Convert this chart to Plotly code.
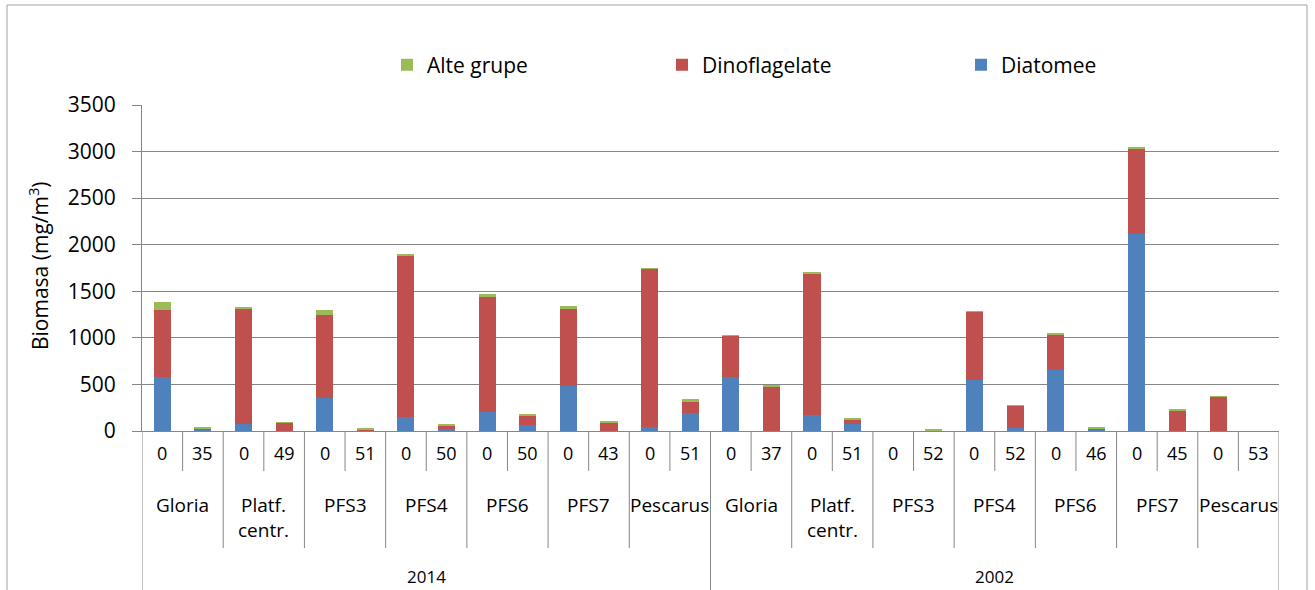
import plotly.graph_objects as go

# Sampling layout: two campaigns, seven stations each, surface (0 m) and deep sample
years = ["2014", "2002"]
stations = ["Gloria", "Platf.<br>centr.", "PFS3", "PFS4", "PFS6", "PFS7", "Pescarus"]
depths_2014 = ["0", "35", "0", "49", "0", "51", "0", "50", "0", "50", "0", "43", "0", "51"]
depths_2002 = ["0", "37", "0", "51", "0", "52", "0", "52", "0", "46", "0", "45", "0", "53"]

# Biomass (mg/m3) per sample, 2014 samples first, then 2002
diatomee = [585, 12, 70, 5, 350, 10, 150, 25, 200, 60, 485, 5, 40, 195,
            585, 2, 170, 70, 0, 4, 550, 35, 660, 14, 2115, 2, 0, 0]
dinoflagelate = [715, 14, 1250, 82, 900, 8, 1730, 30, 1235, 110, 830, 88, 1700, 120,
                 435, 475, 1520, 50, 0, 4, 730, 235, 380, 14, 915, 215, 368, 0]
alte_grupe = [80, 8, 12, 8, 50, 10, 10, 12, 35, 12, 30, 10, 8, 25,
              8, 15, 8, 12, 0, 5, 8, 5, 6, 8, 10, 10, 3, 0]

depths = depths_2014 + depths_2002
n = len(depths)
xs = list(range(n))

FONT = "Open Sans"
GRID = "#868686"

# plot-area geometry in pixels
W_FIG, H_FIG = 1315, 590
L, R, T, B = 142, 36, 105, 159
PW = W_FIG - L - R
PH = H_FIG - T - B


def py(ypx):
    """Pixel row -> paper y."""
    return (H_FIG - B - ypx) / PH


def px(xpx):
    """Pixel column -> paper x."""
    return (xpx - L) / PW


fig = go.Figure()
fig.add_trace(go.Bar(x=xs, y=diatomee, name="Diatomee", marker_color="#4F81BD",
                     marker_line_width=0, legend="legend3"))
fig.add_trace(go.Bar(x=xs, y=dinoflagelate, name="Dinoflagelate", marker_color="#C0504D",
                     marker_line_width=0, legend="legend2"))
fig.add_trace(go.Bar(x=xs, y=alte_grupe, name="Alte grupe", marker_color="#9BBB59",
                     marker_line_width=0, legend="legend"))

annotations = []
shapes = []

# depth labels
for i, d in enumerate(depths):
    annotations.append(dict(x=i, y=py(453), xref="x", yref="paper", text=d,
                            showarrow=False, yanchor="middle", xanchor="center",
                            font=dict(family=FONT, size=18, color="#000")))

# station labels
per_year = 2 * len(stations)
for yi, yr in enumerate(years):
    for si, st in enumerate(stations):
        cx = yi * per_year + si * 2 + 0.5
        annotations.append(dict(x=cx, y=py(490), xref="x", yref="paper", text=st,
                                showarrow=False, yanchor="top", xanchor="center",
                                font=dict(family=FONT, size=19, color="#000")))
    annotations.append(dict(x=yi * per_year + per_year / 2 - 0.5, y=py(576), xref="x",
                            yref="paper", text=yr, showarrow=False, yanchor="middle",
                            xanchor="center", font=dict(family=FONT, size=17, color="#000")))

# category separators below the axis
for b in range(n + 1):
    if b % per_year == 0:
        bottom = 620
    elif b % 2 == 0:
        bottom = 548
    else:
        bottom = 471
    shapes.append(dict(type="line", xref="x", yref="paper", x0=b - 0.5, x1=b - 0.5,
                       y0=0, y1=py(bottom), line=dict(color=GRID, width=1)))

# outer chart frame
shapes.append(dict(type="rect", xref="paper", yref="paper", x0=px(7), x1=px(1307),
                   y0=py(640), y1=py(5), line=dict(color="#a0a0a0", width=1),
                   fillcolor="rgba(0,0,0,0)", layer="below"))

# y-axis title
annotations.append(dict(x=px(38), y=py(266), xref="paper", yref="paper",
                        text="Biomasa (mg/m<sup>3</sup>)", textangle=-90, showarrow=False,
                        xanchor="center", yanchor="middle",
                        font=dict(family=FONT, size=21, color="#000")))

leg_common = dict(orientation="h", yanchor="middle", xanchor="left", y=py(65),
                  bgcolor="rgba(0,0,0,0)", font=dict(family=FONT, size=21, color="#000"),
                  itemclick=False, itemdoubleclick=False)

fig.update_layout(
    width=W_FIG, height=H_FIG,
    margin=dict(l=L, r=R, t=T, b=B),
    paper_bgcolor="white", plot_bgcolor="white",
    barmode="stack", bargap=0.58,
    showlegend=True,
    legend=dict(x=px(387), **leg_common),
    legend2=dict(x=px(662), **leg_common),
    legend3=dict(x=px(961), **leg_common),
    xaxis=dict(range=[-0.5, n - 0.5], showticklabels=False, showgrid=False,
               zeroline=False, showline=True, linecolor=GRID, linewidth=1, ticks=""),
    yaxis=dict(range=[0, 3500], dtick=500, showgrid=True, gridcolor=GRID, gridwidth=1.3,
               zeroline=False, showline=True, linecolor=GRID, linewidth=1,
               ticks="outside", ticklen=9, tickcolor=GRID, ticklabelstandoff=12,
               tickfont=dict(family=FONT, size=21, color="#000")),
    annotations=annotations,
    shapes=shapes,
)

fig.write_html("out.html")
